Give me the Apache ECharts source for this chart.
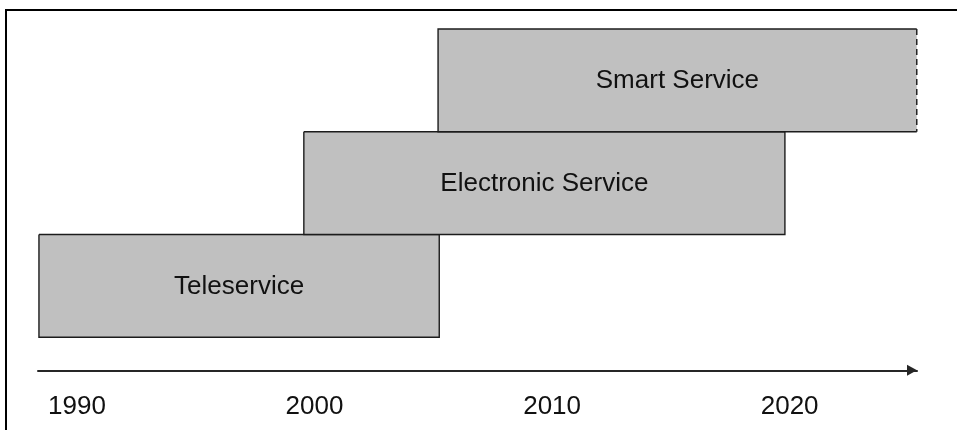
<!DOCTYPE html>
<html>
<head>
<meta charset="utf-8">
<style>
html,body{margin:0;padding:0;background:#fff;}
#chart{width:957px;height:430px;}
</style>
<script src="https://cdn.jsdelivr.net/npm/echarts@6/dist/echarts.min.js"></script>
</head>
<body>
<div id="chart"></div>
<script>
// Phases of service (years)
var phaseLabels = ['Teleservice', 'Electronic Service', 'Smart Service'];
var phaseStart  = [1988.4, 1999.55, 2005.2];
var phaseEnd    = [2005.25, 2019.8, 2025.35];
var phaseRow    = [0, 1, 2];
var phaseOngoing = [false, false, true];
var yearTicks   = [1990, 2000, 2010, 2020];

var FONT = '"Liberation Sans", Arial, sans-serif';

var data = phaseLabels.map(function (l, i) {
  return [phaseStart[i], phaseEnd[i], phaseRow[i], l, phaseOngoing[i] ? 1 : 0];
});

var chart = echarts.init(document.getElementById('chart'), null, {renderer: 'canvas'});

chart.setOption({
  backgroundColor: '#ffffff',
  animation: false,
  grid: {left: 38, right: 40, top: 29, bottom: 92.7, containLabel: false},
  xAxis: {
    type: 'value',
    min: 1988.36,
    max: 2025.36,
    offset: 33,
    axisLine: {
      show: true,
      onZero: false,
      symbol: ['none', 'triangle'],
      symbolSize: [11, 10],
      symbolOffset: [0, -5],
      lineStyle: {color: '#262626', width: 2}
    },
    axisTick: {show: false},
    splitLine: {show: false},
    axisLabel: {
      customValues: yearTicks,
      formatter: function (v) { return String(v); },
      fontFamily: FONT,
      fontSize: 26,
      color: '#111',
      margin: 24,
      verticalAlign: 'top'
    }
  },
  yAxis: {
    type: 'value', min: 0, max: 3,
    show: false,
    splitLine: {show: false}
  },
  series: [{
    type: 'custom',
    data: data,
    encode: {x: [0, 1], y: 2},
    renderItem: function (params, api) {
      var p0 = api.coord([api.value(0), api.value(2)]);
      var p1 = api.coord([api.value(1), api.value(2) + 1]);
      var x0 = p0[0], x1 = p1[0], yb = p0[1], yt = p1[1];
      var open = api.value(4) === 1;
      var stroke = '#1c1c1c';
      var children = [
        {type: 'rect', shape: {x: x0, y: yt, width: x1 - x0, height: yb - yt},
         style: {fill: '#c0c0c0', stroke: null}},
        {type: 'polyline', shape: {points: open ? [[x1, yt], [x0, yt], [x0, yb], [x1, yb]] : [[x0, yt], [x1, yt], [x1, yb], [x0, yb], [x0, yt]]},
         style: {fill: null, stroke: stroke, lineWidth: 1.4}},
        {type: 'text', x: (x0 + x1) / 2, y: (yt + yb) / 2 + 0.5,
         style: {text: api.value(3), fill: '#111', font: '26px ' + FONT, align: 'center', verticalAlign: 'middle'}}
      ];
      if (open) {
        children.push({type: 'line', shape: {x1: x1, y1: yt, x2: x1, y2: yb},
          style: {stroke: '#222', lineWidth: 1.5, lineDash: [6, 4]}});
      }
      return {type: 'group', children: children};
    }
  }],
  graphic: [
    {type: 'line', shape: {x1: 5, y1: 10, x2: 957, y2: 10}, style: {stroke: '#000', lineWidth: 2}, silent: true},
    {type: 'line', shape: {x1: 6, y1: 9, x2: 6, y2: 430}, style: {stroke: '#000', lineWidth: 2}, silent: true}
  ]
});
</script>
</body>
</html>
